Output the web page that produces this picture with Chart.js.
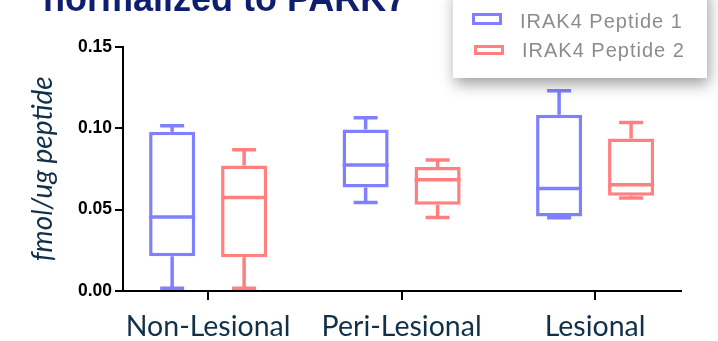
<!DOCTYPE html>
<html>
<head>
<meta charset="utf-8">
<script src="https://cdn.jsdelivr.net/npm/chart.js@4"></script>
<style>
  body { margin: 0; background: #fff; overflow: hidden; }
  #wrap { position: relative; width: 718px; height: 341px; overflow: hidden; }
  #title { position: absolute; left: 43px; top: -19.5px; font: bold 36px 'Liberation Sans', Arial, sans-serif; line-height: 36px; color: #0d1f6e; white-space: nowrap; }
  #legend { position: absolute; left: 453px; top: -12px; width: 254px; height: 90px; background: #fff; box-shadow: 2px 6px 14px rgba(0,0,0,0.38); }
  .key { position: absolute; width: 24px; height: 6px; border: 3px solid; }
  .lab { position: absolute; font: 20px 'Liberation Sans', Arial, sans-serif; line-height: 20px; letter-spacing: 1px; color: #8c8c8c; white-space: nowrap; }
</style>
</head>
<body>
<div id="wrap">
  <canvas id="boxChart" width="718" height="341"></canvas>
  <div id="title">normalized to PARK7</div>
  <div id="legend">
    <div class="key" style="left:19px; top:25px; border-color:#8080ff;"></div>
    <div class="lab" style="left:67px; top:22.5px;">IRAK4 Peptide 1</div>
    <div class="key" style="left:21px; top:57px; border-color:#ff8080; height:4px;"></div>
    <div class="lab" style="left:69px; top:51.8px;">IRAK4 Peptide 2</div>
  </div>
</div>
<script>
const categories = ['Non-Lesional', 'Peri-Lesional', 'Lesional'];
const yTicks = [0, 0.05, 0.10, 0.15];

// IRAK4 Peptide 1
const p1Min = [0.0017, 0.0544, 0.0449];
const p1Q1 = [0.0213, 0.0636, 0.0458];
const p1Median = [0.0454, 0.0773, 0.0630];
const p1Q3 = [0.0978, 0.0992, 0.1082];
const p1Max = [0.1015, 0.1064, 0.1230];

// IRAK4 Peptide 2
const p2Min = [0.0017, 0.0452, 0.0571];
const p2Q1 = [0.0207, 0.0530, 0.0585];
const p2Median = [0.0574, 0.0683, 0.0652];
const p2Q3 = [0.0770, 0.0761, 0.0937];
const p2Max = [0.0868, 0.0805, 0.1034];

const blue = '#8080ff';
const red = '#ff8080';
const navy = '#11304a';

const whiskers = [
  { min: p1Min, median: p1Median, max: p1Max, color: blue },
  { min: p2Min, median: p2Median, max: p2Max, color: red }
];

const boxWhiskers = {
  id: 'boxWhiskers',
  afterDatasetsDraw(chart) {
    const ctx = chart.ctx;
    const y = chart.scales.y;
    chart.data.datasets.forEach((ds, i) => {
      const s = whiskers[i];
      chart.getDatasetMeta(i).data.forEach((bar, j) => {
        const { x, y: top, base, width } = bar.getProps(['x', 'y', 'base', 'width'], true);
        const yMax = y.getPixelForValue(s.max[j]);
        const yMin = y.getPixelForValue(s.min[j]);
        const yMed = y.getPixelForValue(s.median[j]);
        ctx.save();
        ctx.strokeStyle = s.color;
        ctx.lineWidth = 3.5;
        ctx.beginPath();
        ctx.moveTo(x, top); ctx.lineTo(x, yMax);
        ctx.moveTo(x - 12, yMax); ctx.lineTo(x + 12, yMax);
        ctx.moveTo(x, base); ctx.lineTo(x, yMin);
        ctx.moveTo(x - 12, yMin); ctx.lineTo(x + 12, yMin);
        ctx.moveTo(x - width / 2, yMed); ctx.lineTo(x + width / 2, yMed);
        ctx.stroke();
        ctx.restore();
      });
    });
  }
};

const ctx = document.getElementById('boxChart').getContext('2d');
new Chart(ctx, {
  type: 'bar',
  data: {
    datasets: [{
      label: 'IRAK4 Peptide 1',
      data: categories.map((c, i) => ({ x: i, y: [p1Q1[i], p1Q3[i]] })),
      backgroundColor: '#ffffff',
      borderColor: blue,
      borderWidth: 3.5,
      borderSkipped: false
    }, {
      label: 'IRAK4 Peptide 2',
      data: categories.map((c, i) => ({ x: i, y: [p2Q1[i], p2Q3[i]] })),
      backgroundColor: '#ffffff',
      borderColor: red,
      borderWidth: 3.5,
      borderSkipped: false
    }]
  },
  options: {
    responsive: false,
    animation: false,
    categoryPercentage: 0.744,
    barPercentage: 0.64,
    layout: { padding: { top: 46.7, right: 37, left: 0, bottom: 0 } },
    plugins: { legend: { display: false }, tooltip: { enabled: false } },
    scales: {
      x: {
        type: 'linear',
        offset: false,
        min: -0.44,
        max: 2.444,
        afterBuildTicks: scale => { scale.ticks = categories.map((c, i) => ({ value: i })); },
        afterFit: scale => { scale.height = 50; },
        grid: { offset: false, drawOnChartArea: false, drawTicks: true, tickLength: 9, color: '#000', lineWidth: 2 },
        border: { display: true, color: '#000', width: 2 },
        ticks: {
          padding: 10,
          color: navy,
          font: { family: 'Lato', size: 28.5 },
          maxRotation: 0,
          callback: v => categories[v]
        }
      },
      y: {
        min: 0,
        max: 0.15,
        afterBuildTicks: scale => { scale.ticks = yTicks.map(v => ({ value: v })); },
        afterFit: scale => { scale.width = 123; },
        grid: { drawOnChartArea: false, drawTicks: true, tickLength: 8, color: '#000', lineWidth: 2 },
        border: { display: true, color: '#000', width: 2 },
        ticks: {
          padding: 3,
          color: '#000',
          font: { family: 'Liberation Sans', size: 17.5, weight: 'bold' },
          callback: v => v.toFixed(2)
        },
        title: {
          display: true,
          text: 'fmol/ug peptide',
          color: navy,
          font: { family: 'Lato', size: 28, style: 'italic' },
          padding: { top: 26, bottom: 0 }
        }
      }
    }
  },
  plugins: [boxWhiskers]
});
</script>
</body>
</html>
